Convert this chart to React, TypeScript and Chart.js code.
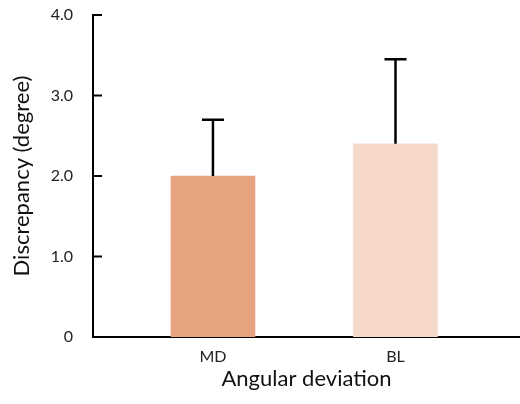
import React, { useEffect, useRef } from 'react';
import { Chart, registerables } from 'chart.js';

Chart.register(...registerables);

const categories = ['MD', 'BL'];
const xPositions = [1, 2];
const means = [2.0, 2.4];
const errors = [0.7, 1.05];
const yTicks = [0, 1, 2, 3, 4];
const barColors = ['#E8A480', '#F6D9CA'];

const FONT = 'Lato, "Open Sans", sans-serif';

const errorBarPlugin = {
  id: 'errorBars',
  afterDatasetsDraw(chart: any) {
    const { ctx, scales } = chart;
    const x = scales.x;
    const y = scales.y;
    ctx.save();
    ctx.strokeStyle = '#000';
    ctx.lineWidth = 2.5;
    ctx.lineCap = 'butt';
    means.forEach((m, i) => {
      const px = x.getPixelForValue(xPositions[i]);
      const y0 = y.getPixelForValue(m);
      const y1 = y.getPixelForValue(m + errors[i]);
      ctx.beginPath();
      ctx.moveTo(px, y0);
      ctx.lineTo(px, y1);
      ctx.moveTo(px - 11, y1);
      ctx.lineTo(px + 11, y1);
      ctx.stroke();
    });
    // inward tick marks on y axis
    ctx.lineWidth = 2;
    const left = chart.chartArea.left;
    yTicks.forEach((v) => {
      const py = y.getPixelForValue(v);
      ctx.beginPath();
      ctx.moveTo(left, py);
      ctx.lineTo(left + 9, py);
      ctx.stroke();
    });
    ctx.restore();
  },
};

export default function App() {
  const ref = useRef<HTMLCanvasElement | null>(null);

  useEffect(() => {
    document.body.style.margin = '0';
    const canvas = ref.current;
    if (!canvas) return;
    const chart = new Chart(canvas, {
      type: 'bar',
      data: {
        datasets: [
          {
            data: means.map((m, i) => ({ x: xPositions[i], y: m })),
            backgroundColor: barColors,
            borderWidth: 0,
            barThickness: 84,
          },
        ],
      },
      options: {
        animation: false,
        responsive: true,
        maintainAspectRatio: false,
        layout: { padding: { top: 15, left: 0, right: 0, bottom: 0 } },
        plugins: { legend: { display: false }, tooltip: { enabled: false } },
        scales: {
          x: {
            type: 'linear',
            offset: false,
            min: 0.343,
            max: 2.682,
            grid: { display: false, drawTicks: false },
            border: { display: true, color: '#000', width: 2 },
            afterBuildTicks: (scale: any) => {
              scale.ticks = xPositions.map((v) => ({ value: v }));
            },
            afterFit: (scale: any) => {
              scale.height = 67;
              scale.paddingLeft = 0;
              scale.paddingRight = 0;
            },
            ticks: {
              padding: 10,
              color: '#222',
              font: { family: FONT, size: 16 },
              callback: (v: any) => categories[xPositions.indexOf(Number(v))] ?? '',
            },
            title: {
              display: true,
              text: 'Angular deviation',
              color: '#111',
              font: { family: FONT, size: 22 },
              padding: { top: 0, bottom: 12 },
            },
          },
          y: {
            min: 0,
            max: 4,
            grid: { display: false, drawTicks: false },
            border: { display: true, color: '#000', width: 2 },
            afterBuildTicks: (scale: any) => {
              scale.ticks = yTicks.map((v) => ({ value: v }));
            },
            afterFit: (scale: any) => {
              scale.width = 93;
              scale.paddingTop = 0;
              scale.paddingBottom = 0;
            },
            ticks: {
              padding: 20,
              color: '#222',
              font: { family: FONT, size: 16 },
              callback: (v: any) => (Number(v) === 0 ? '0' : Number(v).toFixed(1)),
            },
            title: {
              display: true,
              text: 'Discrepancy (degree)',
              color: '#111',
              font: { family: FONT, size: 22 },
              padding: { top: 9, bottom: 0 },
            },
          },
        },
      },
      plugins: [errorBarPlugin],
    });
    return () => chart.destroy();
  }, []);

  return (
    <div style={{ position: 'absolute', left: 0, top: 0, width: 520, height: 404 }}>
      <canvas ref={ref} />
    </div>
  );
}
